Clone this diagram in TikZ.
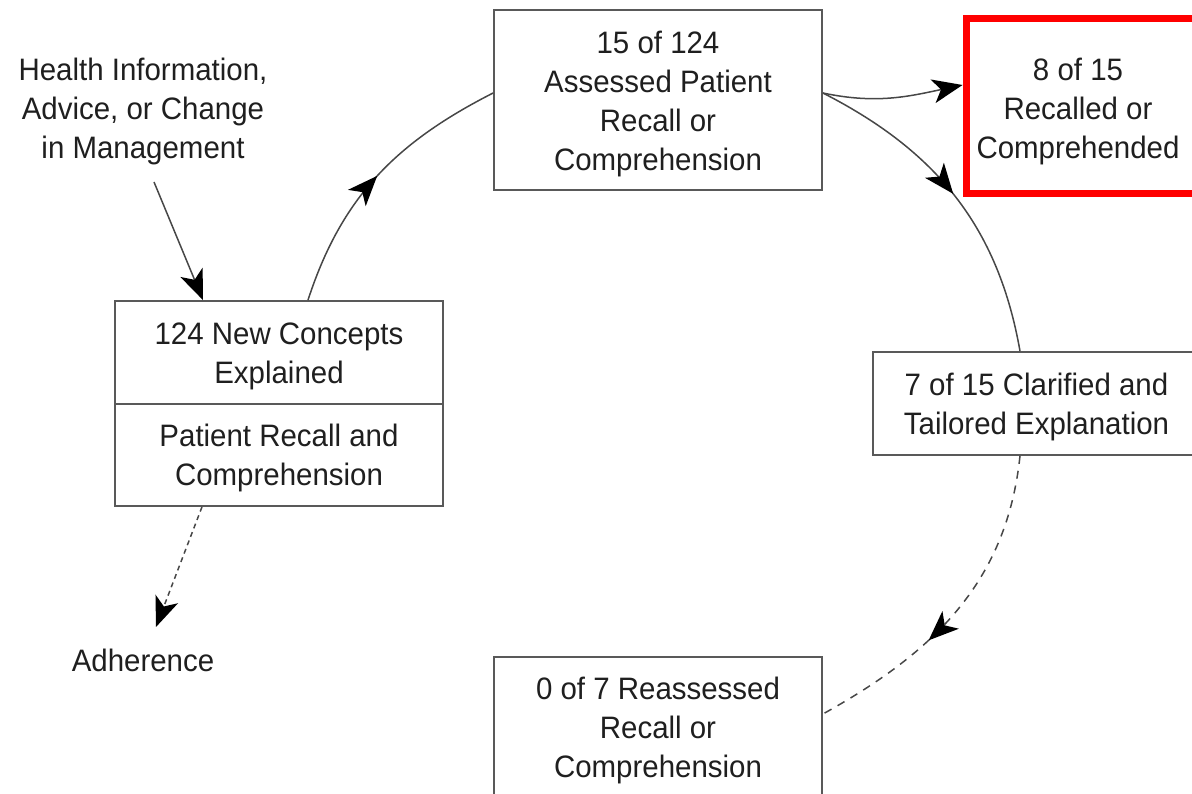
\documentclass[tikz,border=0pt]{standalone}
\usepackage{fontspec}
\setmainfont{Liberation Sans}[FakeStretch=0.95]
\usetikzlibrary{arrows.meta,decorations.markings,calc}
\newcommand{\topstrut}[1]{\rule{0pt}{#1}}
\tikzset{
  mytip/.tip={Stealth[length=30pt,width=24pt,inset=8pt,black]},
  txt/.style={align=center,font=\fontsize{31}{39}\selectfont,text=black!88,inner sep=0pt},
  box/.style={txt,draw=black!65,line width=1.8pt,fill=white},
  conn/.style={draw=black!72,line width=1.5pt},
  midarrow/.style={postaction={decorate},decoration={markings,mark=at position #1 with {\arrow{mytip}}}}
}
\begin{document}
\begin{tikzpicture}[x=1pt,y=1pt]
\useasboundingbox (0,0) rectangle (1192,-794);
\clip (0,0) rectangle (1192,-794);

\node[box,minimum width=328pt,minimum height=180pt] (assess) at (658,-100) {\topstrut{30pt}15 of 124\\Assessed Patient\\Recall or\\Comprehension};
\node[box,draw=red,line width=7pt,minimum width=248pt,minimum height=175pt,
  label={[txt,xshift=-12pt,yshift=-5pt]center:8 of 15\\Recalled or\\Comprehended}] (recalled) at (1090,-106.5) {};
\node[box,minimum width=327pt,minimum height=103pt] (clar) at (1036.5,-403.5) {\topstrut{29pt}7 of 15 Clarified and\\Tailored Explanation};
\node[box,minimum width=328pt,minimum height=141pt] (reass) at (658,-727.5) {\topstrut{29pt}0 of 7 Reassessed\\Recall or\\Comprehension};
\node[box,minimum width=328pt,minimum height=103pt] (concepts) at (279,-352.5) {\topstrut{30pt}124 New Concepts\\Explained};
\node[box,minimum width=328pt,minimum height=102pt] (patient) at (279,-455) {\topstrut{28pt}Patient Recall and\\Comprehension};
\node[txt] (health) at (143,-111) {Health Information,\\Advice, or Change\\in Management};
\node[txt] (adh) at (143,-660) {Adherence};

\coordinate (h1) at (154,-182);
\coordinate (adhtip) at (156,-627);

\draw[conn,-{mytip}] (h1) -- ([xshift=-76pt]concepts.north);
\draw[conn,midarrow=0.5] ([xshift=29pt]concepts.north) to[out=72,in=207] ([yshift=7pt]assess.west);
\draw[conn,-{mytip}] ([yshift=7pt]assess.east) to[out=-12,in=192] ([yshift=21.5pt]recalled.west);
\draw[conn,midarrow=0.49] ([yshift=7pt]assess.east) to[out=-27,in=100] ([xshift=-16.5pt]clar.north);
\draw[conn,dash pattern=on 8pt off 7pt,midarrow=0.62] ([xshift=-16.5pt]clar.south) to[out=-96,in=29] ([yshift=13.5pt]reass.east);
\draw[conn,dash pattern=on 5pt off 4pt,-{mytip}] ([xshift=-77pt]patient.south) -- (adhtip);
\end{tikzpicture}
\end{document}
